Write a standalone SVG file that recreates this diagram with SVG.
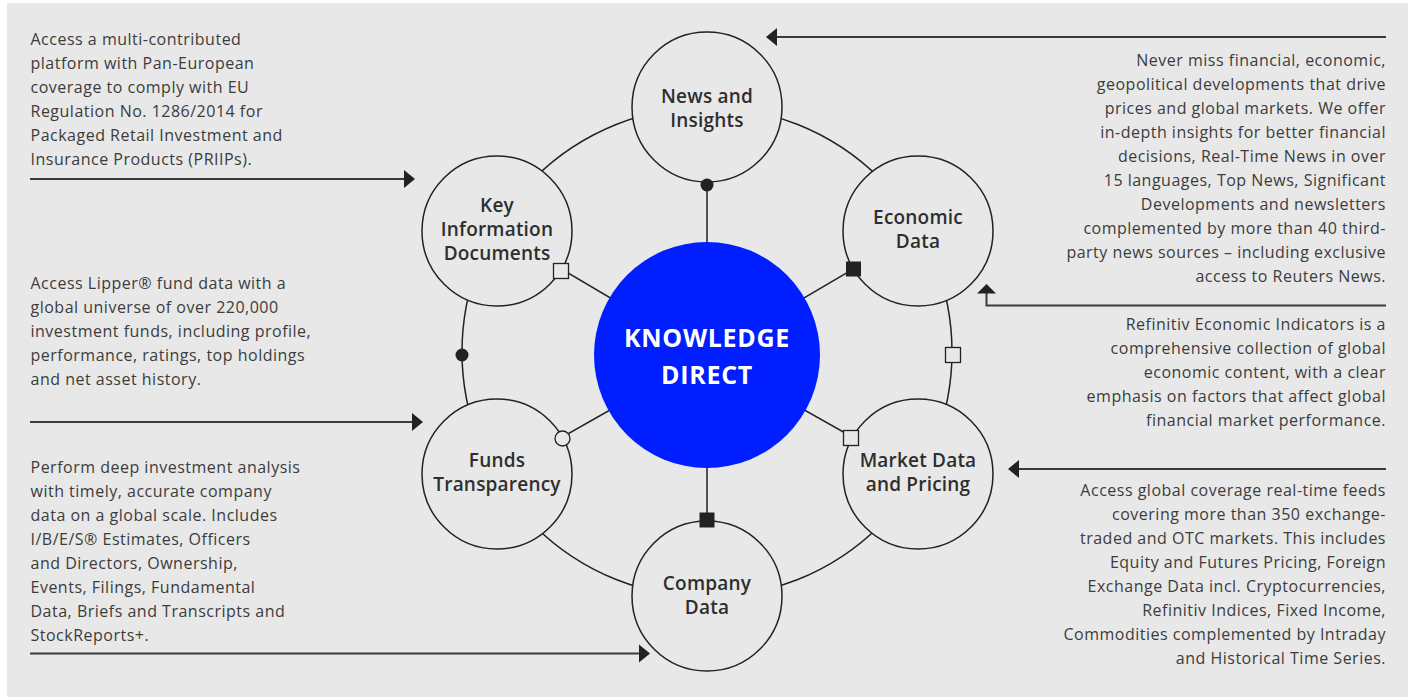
<svg xmlns="http://www.w3.org/2000/svg" width="1410" height="697" viewBox="0 0 1410 697">
<style>
.bg{fill:#e8e8e8}
.ring{fill:none;stroke:#222;stroke-width:1.5}
.spoke{stroke:#222;stroke-width:1.5}
.node{fill:#e8e8e8;stroke:#222;stroke-width:1.5}
.hub{fill:#001eff}
.lbl{font-family:"Open Sans","Liberation Sans",sans-serif;font-size:19px;font-weight:600;fill:#2e2e2e;text-anchor:middle;letter-spacing:0.2px}
.hubt{font-family:"Open Sans","Liberation Sans",sans-serif;font-size:25px;font-weight:700;fill:#fff;text-anchor:middle;letter-spacing:0.7px}
.desc{font-family:"Open Sans","Liberation Sans",sans-serif;font-size:16px;fill:#3c3c3c;letter-spacing:0.5px}
.r{text-anchor:end}
.arr{fill:none;stroke:#3a3a3a;stroke-width:2}
.head{fill:#222}
.mf{fill:#222}
.mo{fill:#e8e8e8;stroke:#222;stroke-width:1.3}
</style>
<rect x="0" y="0" width="1410" height="697" fill="#fff"/>
<rect class="bg" x="7" y="3" width="1401" height="694"/>

<g id="connectors">
<circle class="ring" cx="707" cy="352" r="245"/>
<line class="spoke" x1="707" y1="355" x2="707" y2="107"/>
<line class="spoke" x1="707" y1="355" x2="707" y2="596"/>
<line class="spoke" x1="707" y1="355" x2="497" y2="231"/>
<line class="spoke" x1="707" y1="355" x2="918" y2="231"/>
<line class="spoke" x1="707" y1="355" x2="497" y2="474"/>
<line class="spoke" x1="707" y1="355" x2="918" y2="474"/>
<line class="arr" x1="30" y1="179" x2="406" y2="179"/>
<polygon class="head" points="404,170 415,179 404,188"/>
<line class="arr" x1="30" y1="422" x2="413" y2="422"/>
<polygon class="head" points="412,413 423,422 412,431"/>
<line class="arr" x1="30" y1="653.5" x2="640" y2="653.5"/>
<polygon class="head" points="639,644.5 650,653.5 639,662.5"/>
<line class="arr" x1="1386" y1="37" x2="775" y2="37"/>
<polygon class="head" points="777,28 766,37 777,46"/>
<polyline class="arr" points="1386,305.5 986.5,305.5 986.5,292"/>
<polygon class="head" points="977,293.5 986.5,284 996,293.5"/>
<line class="arr" x1="1386" y1="469" x2="1017" y2="469"/>
<polygon class="head" points="1019,460 1008,469 1019,478"/>
</g>

<g id="hub">
<circle class="hub" cx="707" cy="355" r="113"/>
<text class="hubt" x="707" y="347">KNOWLEDGE</text>
<text class="hubt" x="707" y="384">DIRECT</text>
</g>

<g id="news">
<circle class="node" cx="707" cy="107" r="75"/>
<text class="lbl" x="707" y="103">News and</text>
<text class="lbl" x="707" y="127">Insights</text>
</g>
<g id="kid">
<circle class="node" cx="497" cy="231" r="75"/>
<text class="lbl" x="497" y="212">Key</text>
<text class="lbl" x="497" y="236">Information</text>
<text class="lbl" x="497" y="260">Documents</text>
</g>
<g id="econ">
<circle class="node" cx="918" cy="231" r="75"/>
<text class="lbl" x="918" y="224">Economic</text>
<text class="lbl" x="918" y="248">Data</text>
</g>
<g id="funds">
<circle class="node" cx="497" cy="474" r="75"/>
<text class="lbl" x="497" y="467">Funds</text>
<text class="lbl" x="497" y="491">Transparency</text>
</g>
<g id="market">
<circle class="node" cx="918" cy="474" r="75"/>
<text class="lbl" x="918" y="467">Market Data</text>
<text class="lbl" x="918" y="491">and Pricing</text>
</g>
<g id="company">
<circle class="node" cx="707" cy="596" r="75"/>
<text class="lbl" x="707" y="590">Company</text>
<text class="lbl" x="707" y="614">Data</text>
</g>

<g id="markers">
<circle class="mf" cx="707" cy="185" r="6.5"/>
<rect class="mf" x="846" y="261.5" width="15" height="15"/>
<rect class="mo" x="553.5" y="263.5" width="15" height="15"/>
<circle class="mf" cx="462" cy="355" r="6.5"/>
<rect class="mo" x="945.5" y="347.5" width="15" height="15"/>
<circle class="mo" cx="562.5" cy="438.5" r="7.5"/>
<rect class="mo" x="843.5" y="430.5" width="15" height="15"/>
<rect class="mf" x="699.5" y="512.5" width="15" height="15"/>
</g>

<g id="desc-kid">
<text class="desc" x="30.5" y="45">Access a multi-contributed</text>
<text class="desc" x="30.5" y="69">platform with Pan-European</text>
<text class="desc" x="30.5" y="93">coverage to comply with EU</text>
<text class="desc" x="30.5" y="117">Regulation No. 1286/2014 for</text>
<text class="desc" x="30.5" y="141">Packaged Retail Investment and</text>
<text class="desc" x="30.5" y="165">Insurance Products (PRIIPs).</text>
</g>
<g id="desc-funds">
<text class="desc" x="30.5" y="289">Access Lipper® fund data with a</text>
<text class="desc" x="30.5" y="313">global universe of over 220,000</text>
<text class="desc" x="30.5" y="337">investment funds, including profile,</text>
<text class="desc" x="30.5" y="361">performance, ratings, top holdings</text>
<text class="desc" x="30.5" y="385">and net asset history.</text>
</g>
<g id="desc-company">
<text class="desc" x="30.5" y="473">Perform deep investment analysis</text>
<text class="desc" x="30.5" y="497">with timely, accurate company</text>
<text class="desc" x="30.5" y="521">data on a global scale. Includes</text>
<text class="desc" x="30.5" y="545">I/B/E/S® Estimates, Officers</text>
<text class="desc" x="30.5" y="569">and Directors, Ownership,</text>
<text class="desc" x="30.5" y="593">Events, Filings, Fundamental</text>
<text class="desc" x="30.5" y="617">Data, Briefs and Transcripts and</text>
<text class="desc" x="30.5" y="641">StockReports+.</text>
</g>
<g id="desc-news">
<text class="desc r" x="1386" y="66">Never miss financial, economic,</text>
<text class="desc r" x="1386" y="90">geopolitical developments that drive</text>
<text class="desc r" x="1386" y="114">prices and global markets. We offer</text>
<text class="desc r" x="1386" y="138">in-depth insights for better financial</text>
<text class="desc r" x="1386" y="162">decisions, Real-Time News in over</text>
<text class="desc r" x="1386" y="186">15 languages, Top News, Significant</text>
<text class="desc r" x="1386" y="210">Developments and newsletters</text>
<text class="desc r" x="1386" y="234">complemented by more than 40 third-</text>
<text class="desc r" x="1386" y="258">party news sources – including exclusive</text>
<text class="desc r" x="1386" y="282">access to Reuters News.</text>
</g>
<g id="desc-econ">
<text class="desc r" x="1386" y="330">Refinitiv Economic Indicators is a</text>
<text class="desc r" x="1386" y="354">comprehensive collection of global</text>
<text class="desc r" x="1386" y="378">economic content, with a clear</text>
<text class="desc r" x="1386" y="402">emphasis on factors that affect global</text>
<text class="desc r" x="1386" y="426">financial market performance.</text>
</g>
<g id="desc-market">
<text class="desc r" x="1386" y="496">Access global coverage real-time feeds</text>
<text class="desc r" x="1386" y="520">covering more than 350 exchange-</text>
<text class="desc r" x="1386" y="544">traded and OTC markets. This includes</text>
<text class="desc r" x="1386" y="568">Equity and Futures Pricing, Foreign</text>
<text class="desc r" x="1386" y="592">Exchange Data incl. Cryptocurrencies,</text>
<text class="desc r" x="1386" y="616">Refinitiv Indices, Fixed Income,</text>
<text class="desc r" x="1386" y="640">Commodities complemented by Intraday</text>
<text class="desc r" x="1386" y="664">and Historical Time Series.</text>
</g>
</svg>
